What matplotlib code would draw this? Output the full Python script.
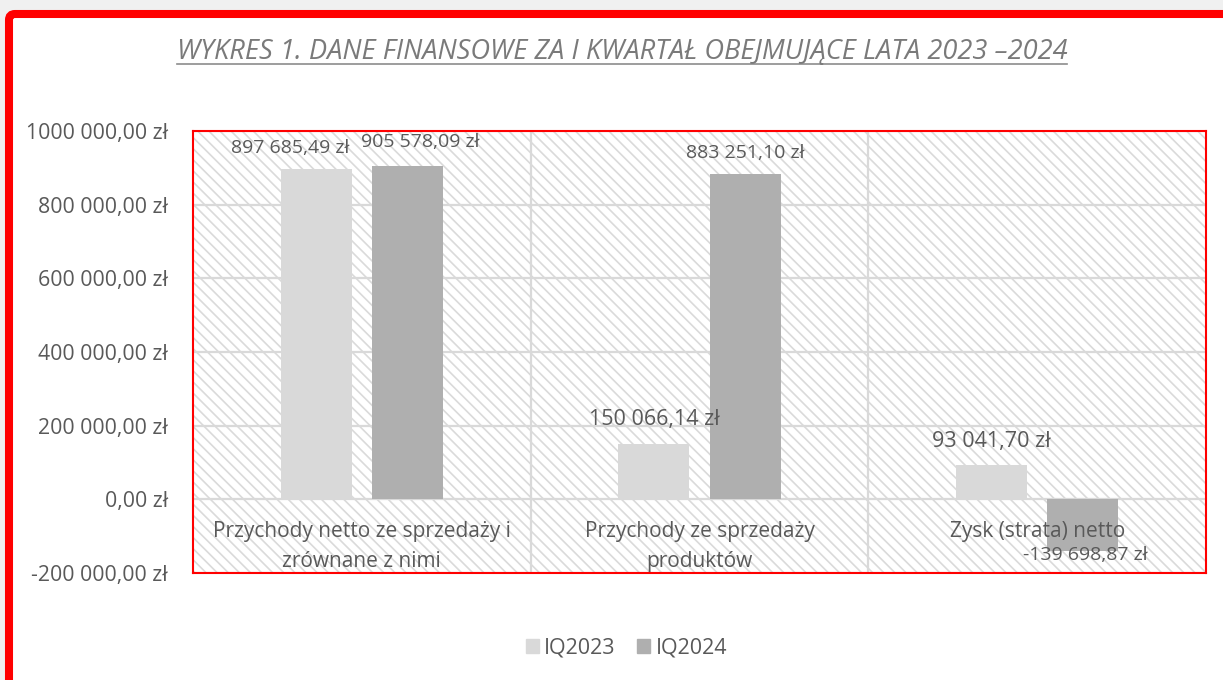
import matplotlib
matplotlib.use("Agg")
import matplotlib.pyplot as plt
from matplotlib.patches import Patch, FancyBboxPatch
from matplotlib.lines import Line2D

plt.rcParams['font.family'] = ['Open Sans', 'DejaVu Sans']
plt.rcParams['hatch.linewidth'] = 1.2
plt.rcParams['hatch.color'] = '#dadada'

## data
categories = ['Przychody netto ze sprzedaży i\nzrównane z nimi',
              'Przychody ze sprzedaży\nproduktów',
              'Zysk (strata) netto']
series_names = ['IQ2023', 'IQ2024']
iq2023 = [897685.49, 150066.14, 93041.70]
iq2024 = [905578.09, 883251.10, -139698.87]
labels_2023 = ['897 685,49 zł', '150 066,14 zł', '93 041,70 zł']
labels_2024 = ['905 578,09 zł', '883 251,10 zł', '-139 698,87 zł']
yticks = [-200000, 0, 200000, 400000, 600000, 800000, 1000000]
ytick_labels = ['-200 000,00 zł', '0,00 zł', '200 000,00 zł', '400 000,00 zł',
                '600 000,00 zł', '800 000,00 zł', '1000 000,00 zł']
title = 'WYKRES 1. DANE FINANSOWE ZA I KWARTAŁ OBEJMUJĄCE LATA 2023 –2024'

## styling
col23, col24 = '#d9d9d9', '#afafaf'
txt = '#595959'
bw, off = 0.21, 0.135
# label offsets (pixels) and sizes
off23 = [(-26, 21), (0, 25), (0, 24)]
off24 = [(13, 24), (0, 21), (3, -4)]
size23 = [14, 15.5, 15.5]
size24 = [14, 14, 14]

fig = plt.figure(figsize=(12.23, 6.80), dpi=100)
fig.patch.set_facecolor('#f0f0f0')
frame = FancyBboxPatch((0.09, -0.5), 13.0, 7.16, boxstyle='round,pad=0,rounding_size=0.06',
                       transform=fig.dpi_scale_trans, fc='white', ec='#ff0000', lw=5.8, zorder=0)
fig.add_artist(frame)

ax = fig.add_axes([0.1578, 0.1574, 0.8283, 0.65])
ax.set_facecolor('white')
ax.patch.set_hatch('\\\\\\')
ax.patch.set_edgecolor('#dadada')
for s in ax.spines.values():
    s.set_color('#ff0000')
    s.set_linewidth(1.5)
    s.set_zorder(5)

x = list(range(len(categories)))
ax.bar([i - off for i in x], iq2023, bw, color=col23, zorder=3)
ax.bar([i + off for i in x], iq2024, bw, color=col24, zorder=3)

for i in x:
    ax.annotate(labels_2023[i], (i - off, max(iq2023[i], 0)), xytext=off23[i],
                textcoords='offset pixels', ha='center', va='center',
                fontsize=size23[i], color=txt, zorder=4)
    ax.annotate(labels_2024[i], (i + off, iq2024[i]), xytext=off24[i],
                textcoords='offset pixels', ha='center', va='center',
                fontsize=size24[i], color=txt, zorder=4)
    ax.text(i, -60000, categories[i], ha='center', va='top', fontsize=15,
            color=txt, linespacing=1.55, zorder=4)

ax.set_xlim(-0.5, 2.5)
ax.set_ylim(-200000, 1000000)
ax.set_yticks(yticks)
ax.set_yticklabels(ytick_labels, fontsize=15.3, color=txt)
ax.tick_params(axis='y', length=0, pad=18)
ax.set_xticks([])
ax.set_xticks([0.5, 1.5], minor=True)
ax.tick_params(axis='x', which='minor', length=0)
ax.grid(axis='y', color='#d9d9d9', lw=1.6, zorder=1)
ax.grid(axis='x', which='minor', color='#d9d9d9', lw=1.6, zorder=1)
ax.set_axisbelow(True)

t = fig.text(0.5087, 1 - 52 / 680, title, ha='center', va='center', fontsize=19.6,
             fontstyle='italic', color='#7a7a7a')

handles = [Patch(color=col23), Patch(color=col24)]
fig.legend(handles, series_names, loc='center', bbox_to_anchor=(0.5123, 1 - 648 / 680),
           ncol=2, frameon=False, fontsize=15.5, labelcolor=txt, handlelength=0.6,
           handleheight=0.6, handletextpad=0.25, columnspacing=1.0)

fig.canvas.draw()
bb = t.get_window_extent()
fig.add_artist(Line2D([bb.x0, bb.x1], [bb.y0 + 2, bb.y0 + 2], transform=None,
                      color='#8c8c8c', lw=1.2))

fig.savefig('out.png', dpi=100)
